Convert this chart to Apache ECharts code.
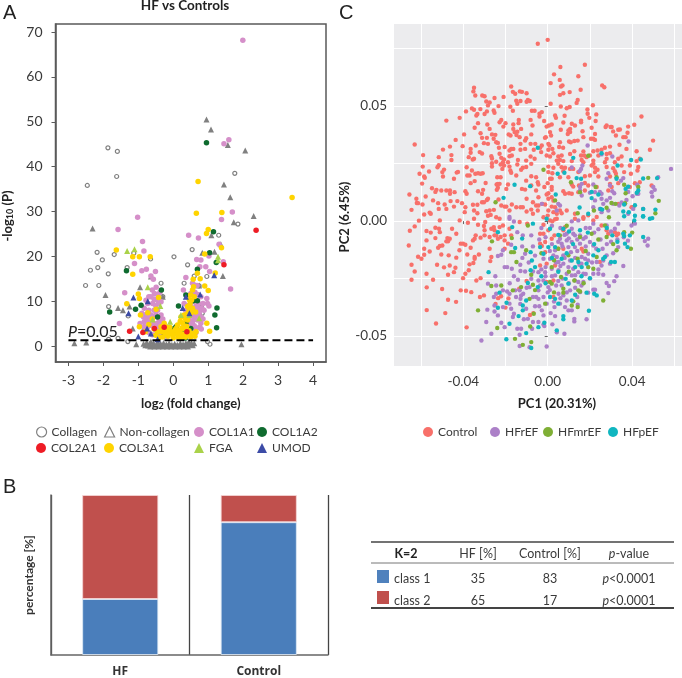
<!DOCTYPE html>
<html><head><meta charset="utf-8">
<script src="https://cdn.jsdelivr.net/npm/echarts@6/dist/echarts.min.js"></script>
<style>html,body{margin:0;padding:0;background:#fff}#c{width:682px;height:678px}</style>
</head><body><div id="c"></div>
<script>
/* Panel A: volcano plot, [log2 fold change, -log10 P] */
const collagen=[[-1.87,44.2],[-1.6,43.4],[-1.62,37.8],[-2.46,35.8],[1.76,38.5],[-2.18,20.9],[-2.03,19.2],[-2.16,17.5],[-2.37,16.9],[-1.86,16.1],[-2.51,13.5],[-2.13,13.5],[-1.69,20.4],[-1.32,17.5],[-1.13,20.7],[-.65,19.4],[.02,19.9],[.54,21.5],[.41,18.1],[.96,15.5],[1.85,27.2],[1.3,24.7],[.6,15.6],[-1.85,8.8],[-1.29,6.7],[-.35,14],[.79,9],[.83,7.3],[-.83,4.3],[-1.58,1.7],[-1.85,1.5],[-1.3,1],[1.05,.4],[.98,1],[-.3,11],[.74,13.4],[.31,14]];
const nonCollagen=[[.95,50.5],[1.08,48.3],[1.56,44.8],[2.06,43.6],[1.45,36],[1.63,33.2],[-2.31,26.2],[2.3,29],[1.73,27.6],[1.09,24.7],[1.36,22.7],[.83,20.8],[1.18,21],[1.42,15.6],[-.95,13.1],[-1.94,11.4],[-1.58,8.5],[-1.44,8],[-.64,15.5],[.74,13.5],[.81,9.2],[.79,7],[.79,4.3],[.55,5.4],[-2.83,.6],[-2.49,.8],[1.95,.4],[-1.06,.4],[-1.16,3.9],[-1.25,8.8],[-.83,4.3],[-.3,11],
[-.85,.5],[-.8,.2],[-.76,.8],[-.72,.1],[-.68,.5],[-.64,1],[-.6,.2],[-.56,.6],[-.52,0],[-.48,.4],[-.44,.9],[-.4,.1],[-.36,.5],[-.32,0],[-.28,.7],[-.24,.2],[-.2,.4],[-.16,0],[-.12,.6],[-.08,.1],[-.04,.3],[0,0],[.04,.5],[.08,.1],[.12,.3],[.16,0],[.2,.6],[.24,.2],[.28,.4],[.32,0],[.36,.7],[.4,.2],[.44,.9],[.48,.3],[.52,.7],[.56,.2],[.6,.6],[-.66,-.1],[-.54,-.1],[-.42,-.1],[-.3,-.1],[-.18,-.1],[-.06,-.1],[.06,-.1],[.18,-.1],[.3,-.1],[.42,-.1]];
const col1a1=[[1.99,68.2],[1.45,45.1],[1.59,46],[-1.02,28.7],[-1.58,26],[-.88,23.3],[-.84,21.2],[-1.11,18.4],[-.9,16.8],[-.77,17.1],[-.51,16.6],[-.64,15.6],[-.57,14.9],[.44,24.7],[.72,24.1],[1.69,29.9],[1.38,28.2],[1.31,22.7],[1.02,20.1],[.67,19.3],[.79,19.2],[.76,17.7],[.93,17.7],[1.04,16.6],[.36,15.3],[.6,13.6],[1.64,12.7],[1.43,18.8],[-1.39,11.9],[-1.54,5],[-.49,13.1],[-.54,11.7],[-.64,11],[-.73,9.5],[-.83,8.4],[-.9,7.3],[-.73,6.5],[-.83,5.4],[-.45,8],[-.35,6.9],[-.45,5.1],[-.59,9.5],[-.49,10.3],[-.35,9.9],[-.65,4.7],[-.83,4.3],[.29,12.5],[.41,11],[.5,11.7],[.79,11],[.96,10.6],[.98,9.5],[.69,8.8],[.74,7.3],[.79,6.5],[.69,5.8],[.79,5.1],[.55,6.9],[.41,7.3],[.6,8],[.31,9.5],[.5,8.8],[1.02,8.9],[-.3,3],[-.4,2.5],[-.2,2.2],[.3,3.5],[.45,2.5],[.55,3.5],[.6,4.5],[.2,2],[.65,3],[-.5,3.5],[-.6,2.5],[-.7,3],
[-.8,7],[-.75,6],[-.7,5.5],[-.65,7],[-.6,6.5],[-.55,8],[-.5,7],[-.45,6.5],[-.4,5.8],[-.35,5],[-.3,6],[-.6,4.5],[-.55,5],[-.5,4.5],[-.4,4],[-.85,6.5],[-.95,5],[-.75,4],[-.7,8],[-.5,9],[-.42,9.5],[-.55,10.5],[-.45,11.5],[-.38,12],[-.6,12.5],[-.7,11],[-.78,10.2],[.3,5],[.35,4.5],[.4,5.5],[.45,6],[.5,5],[.55,5.5],[.6,6],[.65,6.5],[.7,7],[.75,8],[.8,8.5],[.72,9.5],[.65,9],[.45,8],[.4,9],[.35,8],[.55,10],[.62,12],[.68,13.5],[.85,9.5],[.88,8],[.75,4.2],[.65,4],[.5,3],[.85,6],[.8,3.8],[.55,14],[.7,11.5]];
const col1a2=[[.95,45.3],[1.15,25.5],[1.04,20.8],[1.23,18.6],[-1.34,16.8],[-1.82,7.6],[-.34,12.5],[-1.08,8.2],[-.92,9.1],[.69,17.1],[1.25,8.5],[1.19,6.9],[1.24,4.1],[.15,8.9],[.36,11.4],[.58,10.1],[.69,10.1],[-.45,6.5],[.03,3.9],[.08,4.3],[-.02,3.2],[.5,3.9],[.36,5.1],[-.26,2.8],[.15,2.2],[.25,2.8],[.35,1.8]];
const col2a1=[[2.37,25.8],[1.45,18.1],[-1.25,3.3],[-.87,3],[-.54,3.9],[.39,3.2],[-.26,4.2]];
const col3a1=[[.71,36.7],[3.4,33.1],[.66,29.6],[1.39,29.8],[1,26],[.95,25.1],[1.38,21.9],[-1.63,21.4],[-1.16,19.9],[-.97,19.9],[-.66,19.9],[-1.16,16],[.9,20.5],[1.2,16.3],[.69,16.2],[.57,14.9],[.77,15],[.9,13.4],[1,12.4],[.96,5.1],[1.04,3.3],[-1.33,9.4],[-1,11.6],[-.97,10.6],[-.73,7.4],[-.49,8.2],[-.42,10.8],[-.94,6.9],[-.97,4.3],[.55,12.5],[.5,11.4],[.46,10.3],[.41,8.8],[.31,6.9],[.22,6.5],[.55,8.4],[.5,7.3],[.27,5.1],[.12,4.7],[-.26,5.1],[-.21,4.3],[-.16,3.6],[-.35,3.2],[-.07,2.8],[.08,3.9],[.31,3.9],[.55,2.8],[.65,3.2],[.22,2.8],[.41,5.8],[-.35,4.3],[-.45,3.2],[-.15,2.2],[-.3,2],[0,1.8],[.15,1.9],[.35,2],[-.5,2.4],[.42,2.5],[.1,2.8],[-.05,3.2],
[-.55,3.8],[-.6,6],[-.7,4.8],[-.8,3.2],[-.25,3],[-.3,3.8],[-.4,1.9],[-.1,4.2],[-.2,2.8],[0,2.5],[.05,3.5],[.18,3.5],[.25,4],[.3,2.6],[.38,4.4],[.45,3.4],[.35,6],[.4,7.2],[.45,7.8],[.48,9.4],[.52,10.2],[.58,13.2],[.6,11],[.64,7.6],[.2,5.5],[.25,1.9],[.5,2],[.62,2.2]];
const fga=[[-1.32,21.2],[-1.11,21.6],[-.73,13.1],[1.28,19.9],[1.28,19.1],[-.37,8.9],[-.59,5.9],[-.09,5.4],[.74,6.2],[.22,6.9],[.46,6.9]];
const umod=[[-1.14,10.8],[-1.28,7.3],[-.73,10],[.77,11.5],[1.17,15.8],[.27,8.5],[-1,2.1],[-.75,3.9],[-.64,2.8],[.46,7.3],[-.45,1.5],[.36,11]];
const threshold=[[-3,1.3],[4,1.3]];
const xTicksA=[-3,-2,-1,0,1,2,3,4];
const yTicksA=[0,10,20,30,40,50,60,70];

/* Panel B: class share, percent */
const groups=['HF','Control'];
const class1=[35,83];
const class2=[65,17];

/* Table next to panel B */
const tableHead=['K=2','HF [%]','Control [%]','p-value'];
const tableRows=[['class 1','35','83','<0.0001'],['class 2','65','17','<0.0001']];

/* Panel C: PCA scores in units of 0.001, [PC1, PC2] */
const control=[[-4.7,77.1],[-34.9,58],[-35.2,56.4],[-34.3,54.6],[-17.3,58.5],[-16.5,56.2],[-15.4,55.4],[-13.2,56.4],[-12.2,56.2],[-10,55.6],[-31,54.6],[-29.9,54.3],[-25.2,53.5],[-20.9,54],[-29.1,52],[-27.5,51.6],[-28.3,50.3],[-14.9,52.3],[-14.4,51],[-12.9,52.2],[-9.4,52.7],[-8.5,52.2],[-10,51.9],[-17.7,49.7],[-16.5,48],[-23.3,50],[-25.6,48.1],[-25.2,47.1],[-35.9,49],[-34.9,48.4],[-38.7,47.7],[-31.9,48.7],[-28.8,47.7],[-29.9,46.6],[-33.8,45.9],[-33.3,46.6],[-7.5,48],[-6.2,48],[-48,43.7],[-41.7,44.9],[-22,44],[-22.8,43],[-13.7,44],[-13.8,42.6],[-8.1,44],[-20,42.6],[-16.3,42],[-7.2,41.6],[-33,42.6],[-28.6,42],[-21,41.1],[-34.6,40.6],[-27.5,40.1],[-16.3,40.1],[-14.4,38.9],[-12.6,40.1],[-15.7,38.7],[-31.8,38.2],[-26.4,37.7],[-24.8,37.5],[-39.6,37.7],[-18.5,37.7],[-17.6,37.2],[-14.8,37.4],[-7.8,37.7],[-10.2,36],[-13.3,36.5],[-31.1,36.2],[-28.8,36.2],[-25.6,35.8],[-43.6,35.3],[-10.7,35],[-30.2,33.9],[-28.3,33.6],[-24.4,34.3],[-23.6,34],[-12.9,33.6],[-63,33.3],[-34.1,32.9],[-46.3,32.4],[-40.3,32.6],[-23.1,31.9],[-20.4,32.2],[-16.3,31.4],[-17.3,31.4],[-18.1,30.7],[-8.1,33.6],[-5.9,33.6],[-49.6,31.1],[-36.5,31.4],[-36.5,29.7],[-32.2,30],[-31.1,29.4],[-12.9,31],[-10.7,31.4],[-6.6,31],[-59,28.7],[-45.6,28.7],[-51.6,27.8],[-37.4,27.8],[-34.9,27.1],[-35.5,26.8],[-26.7,28.2],[-26.4,27.2],[-22.8,29.3],[-22,27.5],[-20.7,26.8],[-18.1,28.2],[-17,28.5],[-14.1,26.6],[-10.2,26.3],[-8.1,28.1],[-6.2,27.1],[-45.6,26.6],[-24.4,25.8],[-26.4,25.2],[-26.4,23.7],[-18.8,25.6],[-18.1,23.7],[-21.2,25.6],[-20.7,24.2],[-22.3,24.6],[-14.4,24.6],[-11.8,23.2],[-10.2,23.5],[-7.8,24.9],[-59.2,23.7],[-51.6,24.3],[-52.2,23.4],[-38.4,23.4],[-21.5,22.7],[-17.7,22],[-17.3,21],[-12.6,22.3],[-49.1,22.4],[-56.2,21.6],[-42.5,21.4],[-43.1,21.1],[-35.9,22],[-49.9,21.3],[-60.7,20.6],[-34.3,20.6],[-33,20.8],[-30.8,20.8],[-31.8,20.6],[-38.1,19.8],[-37,19.8],[-58.5,19.4],[-58.2,18.8],[-49.6,19.4],[-44.4,18.4],[-23.9,19.1],[-22.3,19.1],[-14.9,19.8],[-7.8,19.5],[-5.5,19.1],[-34.6,17.4],[-36.5,16.5],[-59.5,16.3],[-29.4,16.6],[-23.6,16.2],[-24.2,15.9],[-22.8,16.2],[-18.8,15.9],[-10.2,17.6],[-7.8,15.5],[-4.7,16.9],[-54.8,14.3],[-52.7,13.6],[-53.2,12.7],[-50.4,13.3],[-48,13.3],[-46.3,13.3],[-46.3,11.9],[-44.1,12.6],[-39,13],[-38.4,11.9],[-33,13],[-30.6,13.6],[-31.1,11.9],[-23.6,14.5],[-24.1,13.6],[-19.6,14],[-12.2,14],[-10.7,13.7],[-5.5,13.3],[-65.5,11.6],[-57.8,10.7],[-62.2,9.7],[-54.3,9],[-62,7.9],[-61.4,7.8],[-59.3,7.2],[-51.9,7.8],[-48.8,7.2],[-46,8.7],[-42.8,8.7],[-40.6,7.8],[-39,6],[-35.4,7.1],[-33.3,7.1],[-31.1,8.2],[-30.2,8.2],[-28.3,9.7],[-28.8,9.2],[-23.3,9.4],[-22,6.8],[-20.4,6.3],[-19.6,6.3],[-17,7.2],[-14.9,6],[-12.9,6],[-11.8,6],[-10,9.7],[-7,8.2],[-5.5,6.8],[-64.5,4.9],[-51.6,5.3],[-48,5.3],[-44.4,6.3],[-58.5,2.9],[-55.9,3.7],[-55.4,3.2],[-39.3,3.9],[-34.9,4.6],[-34.9,1],[-33.3,3.4],[-29.1,4.3],[-27.5,4.6],[-27,2.7],[-25.5,4.9],[-28.3,2.3],[-24.4,1.7],[-22.8,1],[-18.1,4.6],[-7.8,5],[-10,4.2],[-7,3.2],[-4.7,4.6],[-61,.2],
[0,78.8],[6,67],[17.6,68],[3,63.8],[14.5,63],[5.7,61.4],[1.4,60],[7,59],[6.3,58.5],[25.8,59],[26.8,58.2],[15.6,57.1],[10.4,56.1],[7.4,55.6],[5.8,54.9],[14.2,52.7],[13.7,51.4],[1.4,51],[6.2,49.8],[9,49.1],[10.4,49.6],[21.4,50.4],[18.8,48.5],[-2.8,47.4],[-3.9,46.7],[18.9,46.7],[23,46.4],[3.5,45.9],[3.9,44.9],[8,45.8],[15.8,43.7],[15.8,43],[19.7,44.9],[-1.7,43.5],[-3.9,45.5],[7.4,42.9],[22.7,43.5],[44.4,45.5],[1.9,42],[.6,41.6],[11.4,42.3],[12.9,41.6],[-.5,41.1],[20.8,40.6],[27.9,41.6],[27.4,40.9],[30.3,40.9],[33.4,39.7],[34.2,39.8],[38.1,41.1],[41,41.9],[29.8,40.9],[10.6,40.1],[9.8,39.4],[10.6,38.7],[9.5,37.9],[6.2,39.7],[1.1,38.7],[1.6,37.2],[16.5,39.1],[22.4,37.9],[31,39],[32.3,37.2],[37.8,38.4],[35.8,36.5],[36.9,36.5],[16.9,36.5],[20.5,35.8],[21.6,35.8],[22.4,35.3],[-.9,36.5],[-1.3,36.2],[49.9,35],[10.1,34.6],[12.6,34.8],[10.9,34.3],[5.8,34.3],[14.2,35],[.3,33.6],[.8,32.9],[-2.8,32.9],[-3.6,31.9],[5.4,32.2],[7.3,31.9],[34,33.2],[29.5,32.4],[27.1,31.9],[37.3,31.4],[48.4,31],[2.2,31.4],[-3.1,30],[12.6,30.4],[.3,31],[2.7,29.5],[10.6,29.2],[25.5,31],[23.6,30.7],[21.6,30.4],[16.9,30.3],[42.1,30.4],[-.5,28.5],[1.1,28.1],[5,28.1],[6.6,28.5],[15.8,28.5],[17.3,28.5],[18.4,27.8],[20,28.5],[24,28.5],[27.9,29.2],[29.5,29.5],[35,28.1],[43.6,27.1],[42.1,26.1],[4.3,26.3],[5.8,26.6],[7.4,26.1],[11.4,26.1],[16.1,26.6],[16.9,25.6],[21.6,26.3],[27.1,25.6],[33.4,27.1],[27.9,27.1],[5,24.9],[6.6,23.4],[.3,23.7],[2.7,23.2],[8.2,23.2],[10.6,22.7],[12.1,22.7],[21.6,24.9],[20.8,24.2],[22.4,23.2],[27.9,23.5],[31,23],[35,24.2],[38.9,24.2],[42.9,23.5],[31.8,25.6],[.3,21.3],[2.2,20.8],[7.4,21.7],[22.4,21.3],[23.6,22.3],[31.8,21.7],[36.2,21.3],[39.4,20.6],[42.5,22],[1.1,18.4],[1.9,18.4],[5.8,19.1],[9.8,19.1],[17.6,19.5],[20,19.8],[24,19.4],[14.5,21.3],[29.5,19.4],[32.3,20.6],[-4.4,15.9],[0,16.5],[-1.6,14.8],[1.9,14.8],[11.4,15.9],[12.1,15],[14.8,15.5],[17.6,16.6],[19.2,15.5],[23.2,14.8],[29.5,16.2],[33.4,16.5],[38.9,14.8],[41.3,16.5],[43.6,16.9],[49.2,15.5],[1.9,13.6],[.3,12.1],[-.5,11.6],[7.4,13],[8.2,11.9],[10.1,12.1],[11.4,11.9],[14.5,12.6],[17.6,13.3],[28.7,13.3],[30.3,14.8],[-4.4,10.4],[1.9,10.4],[.3,9.7],[2.7,8.9],[-1.2,7.2],[.3,4.6],[1.9,6.3],[3.5,6],[-2.5,7.5],[-4.4,6.8],[5.8,4.6],[6.6,3.4],[2.7,3.9],[4.3,3.2],[9,4.6],[0,2.4],[-2,1.7],[4.3,1],[12.9,3.2],[16.9,1.7],[33.4,7.5],[39.7,6],[40.5,6],[36.6,7.5],
[-51.1,.3],[-41.7,.3],[-37.8,-.7],[-63,-2.3],[-65.3,-4.2],[-57.4,-4.3],[-55.4,-5],[-53.2,-2.9],[-51.5,-3.3],[-51.1,-4.8],[-45.3,-3.3],[-43.3,-5.5],[-53.2,-7.4],[-57.4,-8.4],[-47.5,-7.4],[-46.4,-7.7],[-48,-8.8],[-47.2,-8.8],[-65.8,-10.6],[-51.9,-11.6],[-51.1,-10.8],[-49.9,-10.6],[-41.2,-9.8],[-40.1,-9.8],[-39,-10.3],[-58.5,-12],[-55.9,-13.2],[-61.4,-15.5],[-59.8,-16.4],[-58.5,-14.6],[-50.4,-14.5],[-46.9,-14.9],[-41.8,-12.7],[-43.3,-15.9],[-36.5,-11.6],[-38.1,-14.5],[-34.6,-15.6],[-35.4,-8.4],[-34.6,-7.7],[-34.1,-6.2],[-31.8,-7.2],[-29.9,-6.2],[-27.5,-6.9],[-29.9,-4],[-25.2,-6.2],[-33,-1.6],[-30.2,-2.1],[-29.6,-.4],[-26.7,-3.3],[-25.2,-4],[-24.4,-6.2],[-22.3,-6.9],[-20.4,-6.2],[-20.4,-8.4],[-23.6,-7.7],[-18.8,-9.8],[-27.5,-12],[-17.3,-6.2],[-21.2,-1.9],[-25.5,-2.6],[-32.6,-14.5],[-34.6,-16.4],[-35.2,-18.2],[-37,-18.8],[-52.4,-19],[-49.1,-20.1],[-46.4,-19.3],[-43.7,-20.3],[-47.2,-23.3],[-44.4,-22.2],[-64.5,-19],[-63,-21.9],[-57.4,-22.9],[-54.3,-25.5],[-64.5,-25.5],[-37.4,-21.4],[-39,-22.9],[-40.1,-24.8],[-31.8,-24.8],[-33.8,-25.8],[-57.3,-28.8],[-50,-29.5],[-41.2,-30.1],[-38.7,-30.3],[-36.2,-30.9],[-47.2,-34.2],[-43.4,-35.1],[-32.1,-33],[-30.2,-32.3],[-57.3,-38.7],[-48.5,-40],[-52.9,-44.5],[-38.4,-46.2],[-26.7,-15.6],[-27.2,-17.4],[-22.8,-2.6],[-13.3,-.4],[-9.7,-1.1],[-18.1,-3.3],[-20.4,-12],[-24.7,-36],[-23.5,-33.5],[-22.1,-32.7],[-20,-37.6],[-18.6,-33.6],[-13.5,-29.4],[-10,-26],[-8.4,-40.8],[-6.8,-40],
[1.1,.3],[2.2,-.1],[3.5,.8],[-2,-1.6],[8.2,-2.6],[7.4,-4],[12.9,1],[16.9,1],[-3.6,-5.5],[-2,-5.5],[.3,-4],[3.2,-6.2],[-3.6,-9.8],[-2.8,-10.8],[-1.2,-9.1],[1.9,-7.7],[16.1,-12],[16.9,-13.2],[5,-12],[7.4,-12],[24.7,-17.8],[31.8,-4.8],[32.6,-6.2],[27.9,-4],[33.4,-5.5],[-3.6,-19.3],[-.5,-18.5],[3.5,-19.3],[-1.2,-13.5],[2.7,-25.8],[-.5,-26.5],[2.7,-33],[19.2,2.5],[21.6,.3],[25.5,-1.9],[23.2,1.8],[28.7,-5.5]];
const hfref=[[58.4,22.7],[38.3,34.6],[18.9,32.9],[30.6,28.1],[16.4,24.2],[15.8,22.7],[15.1,21.7],[11.4,23.3],[25.5,29],[50,14.8],[50.7,13.6],[49.2,12.6],[49.5,10.7],[42.4,15.8],[42.9,11.9],[38.1,12.7],[40.2,10.8],[42.2,11.9],[52.3,19.1],[28.7,20.8],[27.9,18.4],[30.6,13],[31.5,12.1],[21.6,15.9],[20,12.3],[22.4,12.6],[24.7,12.7],[25.5,11.9],[29.5,10.1],[27.9,9],[35,8.1],[37.3,9.2],[33.9,6.8],[31,7.5],[26.3,7.5],[25.5,9.7],[22.4,9],[15.3,13.3],[15.3,14.8],[16.1,11.1],[16.1,16.2],[35.8,18.7],[34.7,17.6],[29.5,15.5],[5,7.5],[5.8,6.8],[-2.8,7.5],[4.3,4.6],[21.6,6],[28.7,4.6],[25.5,3.9],[24.7,5.3],[38.1,3.2],[40.5,5.3],[45.2,5.3],[38.1,14.8],[-18.1,1],
[-16,-.2],[-14.4,-4.8],[-11.8,-6.2],[-7.8,-6.2],[-10.7,-14.2],[-12.1,-11],[-17.3,-10.3],[-22,-14.6],[-23.6,-15.2],[-21.2,-12.7],[-20.4,-20],[-19.2,-20],[-17,-20.7],[-12.9,-21.7],[-10.7,-21.9],[-7,-21.9],[-7.8,-25.1],[-14.1,-25.5],[-24.8,-24],[-28.3,-27.2],[-24.4,-28],[-25.5,-33],[-24.4,-31.6],[-21.2,-30.1],[-19.2,-30.6],[-18.1,-31.6],[-15.4,-30.1],[-13.3,-30.1],[-12.9,-33.8],[-12.6,-32.3],[-11.6,-31.6],[-8.6,-28.7],[-7,-33],[-5.5,-33],[-17.3,-38.1],[-16,-40.3],[-16.5,-41.7],[-28.6,-38.5],[-25.2,-39.3],[-25.2,-36.7],[-21.2,-37.4],[-18.1,-35.9],[-29.1,-43.9],[-23.6,-41],[-22,-44.2],[-20.4,-46.1],[-26.7,-49],[-31.4,-51.9],[-14.4,-46.8],[-12.6,-46.8],[-13.3,-49.4],[-11.3,-42.7],[-9.4,-42.5],[-7.4,-46.8],[-13.3,-54.3],[-8.6,-54.8],[-7,-43.9],[-10.2,-38.1],[-4.4,-33.8],[-18.1,1.8],
[11.4,-.1],[14.5,.3],[21.6,-1.1],[27.9,-1.9],[33.4,-1.1],[31.8,-3.3],[41.3,-1.1],[47.6,-7.7],[46,-8.7],[47.3,-10.6],[39.7,-1.9],[9,-5.5],[12.1,-5.5],[15.3,-6.2],[9,-8.4],[11.4,-9.1],[9.8,-11.3],[12.9,-11.3],[15.3,-9.8],[16.9,-7.7],[5.8,-7.7],[20,-9.1],[21.6,-10.6],[33.4,-11.3],[26.3,-17.1],[27.9,-14.9],[25.5,-19.3],[35.8,-19.5],[16.1,-15.6],[17.7,-16.4],[19.2,-17.1],[2.7,-14.9],[4.3,-15.6],[5.1,-17.8],[7.4,-18.5],[9.8,-20],[12.1,-20.7],[14.5,-22.2],[16.9,-22.9],[19.2,-20],[21.6,-22.9],[24,-22.9],[26.3,-23.3],[32.6,-24],[31.5,-26.1],[27.9,-26.9],[29,-28.2],[28.7,-31.3],[19.2,-31.1],[21.6,-29.8],[22.4,-29.8],[-4.4,-25.8],[-2,-25.8],[-3.6,-28],[-4.4,-30.1],[.3,-28.7],[5.1,-31.6],[7.4,-32.3],[9,-34.5],[5.8,-35.9],[3.2,-37.4],[-.5,-35.9],[11.4,-38.8],[9.8,-38.8],[8.2,-37.4],[14.2,-36.4],[12.6,-42.5],[12.6,-43.6],[18.4,-42.7],[-2.8,-38.8],[-2,-41],[1.4,-40],[3.5,-41.3],[2.2,-44.9],[-1.6,-45.6],[-4.4,-43.9],[4.3,-48.3],[7.9,-49],[-.5,-54.5],[14.5,-26.5],[12.9,-25.8],[16.9,-26.5],[6.6,-28],[10.6,-30.1],[15.3,-30.9],[-1.2,-22.2],[1.9,-20.7],[-4.4,-22.2],[11.4,-3.3],[12.9,-6.2],[6.6,-9.8],[3.5,-12.7],[7.4,-14.9],[10.6,-17.1],[1.1,-16.4],[-2,-16.4],[3.5,-23.6],[5.1,-21.4],[9,-22.9],[11.4,-23.6],[19.2,-14.2],[23.2,-17.8],[29.5,-18.5],[22,-5],[25,-8],[30,-9],[36,-7],[26,-12],[31,-14],[18,-3],[6,-3],[2,-10],[15,-19],[4,-28],[0,-31],[10,-27],[20,-25],[-1,-20],[7,-25],
[-3,-3],[-1,-7],[2,-2],[5,-9],[8,-6],[10,-7.5],[14,-8],[18,-7],[20,-3],[24,-3.5],[28,-10],[33,-8],[38,-8.5],[30,-4.5],[23,-12],[18,-11],[14,-13],[11,-13.5],[7,-11],[4,-18],[1,-13],[-3,-21],[-1,-24],[2,-24],[6,-19.5],[8,-16],[13,-16],[16,-18.5],[21,-18],[24,-21],[13,-23.5],[18,-23],[16,-28],[13,-29],[9,-31],[5,-26],[1,-30],[-2,-33],[3,-35],[6,-33.5],[14,-33],[-9,-18],[-12,-16],[-6,-15],[-7,-11],[-4,-8],[-13,-19],[-16,-24],[-10,-29],[-13,-36],[-6,-37],[-4,-37],[-2,-45],[-15,-33],[-18,-27]];
const hfmref=[[-2,22.3],[19.2,28.4],[11,16.9],[22.7,14.8],[15.3,12.6],[36.2,15.8],[36.9,12.1],[47.6,18.8],[52.6,8.8],[51,3.4],[30.2,7.9],[32.1,7.5],[36.6,7.8],[27.9,5.8],[21.9,4.6],[14.2,3.4],[29,1.7],[3.5,9],[42.9,14.8],[32.6,19.1],[-24.7,8.2],
[-9.4,-1.9],[-17,-7.4],[-26.4,-8.8],[-10.2,-12.7],[-17.3,-13.5],[-16,-13.5],[-14.8,-17.8],[-7.8,-23.3],[-7,-27.7],[-12.6,-28.7],[-22,-28],[-26.7,-28.2],[-16.5,-30.1],[-33,-38.8],[-8.6,-33.8],[-6.6,-40.3],[-23.9,-46.5],[-8.3,-45.8],[-15.5,-51.2],[-11.8,-53.8],[-7.8,-52.6],
[27.1,-1.9],[36.2,-4.8],[40,-5],[27.9,-6.9],[32.6,-12.7],[39.4,-12],[20.8,-5.5],[15.3,-6.9],[5,-12],[5.8,-6.2],[9.8,-14.9],[14.2,-16.4],[19.2,-20],[21.6,-20.7],[1.9,-20],[6.3,-24.3],[12.6,-25.8],[14.5,-30.1],[26.3,-34.5],[7.4,-29.4],[7.4,-31.1],[12.1,-34.9],[11.4,-36.7],[14.2,-37.4],[-1.2,-35.9],[1.9,-27.2],[1.1,-26.5],[15.3,-30.6],[23.2,-15.6],
[9,-2],[18,-13],[24,-8],[31,-10],[3,-17],[-3,-14],[-6,-30],[3,-31],[10,-22],[17,-27]];
const hfpef=[[12.1,27.5],[25.5,29.5],[33.1,24.2],[39.5,26.6],[44.1,26.8],[4.7,20.6],[7.9,21],[13.7,18.7],[15.8,18.4],[3.8,11.6],[20.8,12.7],[24,11.6],[20.8,10],[38.1,15],[36.9,14],[42.9,13.3],[42.2,12.3],[45.2,18.5],[51.8,18.7],[41.3,6.9],[36.2,7.2],[15.1,5.9],[25,5.3],[25.8,5],[19.2,3.2],[35.8,4.2],[38.4,3.9],[36.2,2.1],[41.3,2.3],[45.2,2],[45.2,5.3],[51,5],[48.4,1],[49.5,1.3],[-.5,1],[32.6,18.4],[-15.7,15.8],[-8.3,15.2],[-20.9,10.1],[-4.7,31.9],
[-23.6,-4.8],[-16.8,-2.6],[-12.1,-7.6],[-15.4,-11.7],[-8.1,-13.5],[-7.5,-17.1],[-28,-22.2],[-8.1,-21.4],[-9.4,-26.9],[-22.8,-31.1],[-19.5,-35.5],[-23.6,-37.7],[-11.8,-36.7],[-11.8,-38.8],[-13.8,-41.3],[-18.1,-44.6],[-10.2,-48.7],[-19.6,-51.4],[-7.8,-55.2],[-4.7,-28.7],[-10.2,-34.5],[-7,-1.1],
[41,.3],[45.2,2.1],[35.8,-5.5],[36.2,-6.5],[38.9,-6.2],[30.6,-6.2],[1.1,-3.3],[7.4,-3.3],[10.1,-4.5],[15.3,-4],[24,-12.7],[21.6,-14.9],[26.3,-16.4],[30,-17.8],[31.8,-17.8],[6.6,-16.4],[11.4,-17.1],[18.4,-18.5],[.3,-11.3],[3.5,-11.3],[-2,-14.2],[-3.6,-11.3],[16.1,-20],[20,-24.8],[8.5,-25.1],[9.8,-27.2],[18.4,-31.1],[22,-31.6],[23.2,-32.3],[1.1,-33],[3.5,-33.8],[11.4,-34.5],[19.5,-39],[7.4,-41.3],[7.4,-42.7],[4.3,-47.5],[-1.6,-44.2],[-4.4,-46.1],[5,-35.9],[36.6,-9.8],[37.8,-11.3],[45.2,-6.9],[27.1,-15.6],[14.5,-17.8],
[5,-6],[12,-10],[19,-5],[28,-3],[33,-9],[2,-16],[9,-14],[13,-20],[22,-10],[-1,-27],[-6,-20],[-3,-24],[5,-22],[16,-24],[13,-32]];
const xTicksC=[-0.04,0,0.04];
const yTicksC=[-0.05,0,0.05];
const xGridC=[-0.06,-0.04,-0.02,0,0.02,0.04,0.06];
const yGridC=[-0.05,-0.025,0,0.025,0.05,0.075];

const FONT='Lato';
const INK='#3a3a3a';
const GRAY='#808080';
const pca=a=>a.map(p=>[p[0]/1000,p[1]/1000]);
const volcano=(name,data,symbol,color,extra,size)=>({name,type:'scatter',xAxisIndex:0,yAxisIndex:0,data,symbol,symbolSize:size||(symbol==='triangle'?6:5.5),itemStyle:Object.assign({color,opacity:1},extra||{}),silent:true});
const pcaSeries=(name,data,color)=>({name,type:'scatter',xAxisIndex:2,yAxisIndex:2,data:pca(data),symbol:'circle',symbolSize:4.4,itemStyle:{color,opacity:1},silent:true});
const legendAt=(name,icon,left,top,style)=>({data:[Object.assign({name,icon},style?{itemStyle:style}:{})],left,top,orient:'horizontal',padding:0,itemWidth:10,itemHeight:10,selectedMode:false,textStyle:{fontFamily:FONT,fontSize:12,color:INK}});

const hollow={color:'#fff',borderColor:GRAY,borderWidth:1.2};
const legends=[
 legendAt('Collagen','circle',36,426,hollow),
 legendAt('Non-collagen','triangle',104,426,hollow),
 legendAt('COL1A1','circle',194,426),
 legendAt('COL1A2','circle',257,426),
 legendAt('COL2A1','circle',36,442),
 legendAt('COL3A1','circle',104,442),
 legendAt('FGA','triangle',194,442),
 legendAt('UMOD','triangle',257,442),
 legendAt('Control','circle',423,426),
 legendAt('HFrEF','circle',490,426),
 legendAt('HFmrEF','circle',543,426),
 legendAt('HFpEF','circle',608,426)
];

/* table rows as ECharts graphics */
const T={left:371,right:674,cols:[406,478,550,629]};
const txt=(text,x,y,o)=>({type:'text',x,y,silent:true,style:Object.assign({text,fontFamily:FONT,fontSize:12.5,fill:INK,align:'center',verticalAlign:'middle'},o||{})});
const rule=(y,w,c)=>({type:'line',silent:true,shape:{x1:T.left,y1:y,x2:T.right,y2:y},style:{stroke:c,lineWidth:w}});
const pRich={rich:{i:{fontStyle:'italic',fontFamily:FONT,fontSize:12.5,fill:INK},n:{fontFamily:FONT,fontSize:12.5,fill:INK}}};
const graphics=[
 txt('A',3,13,{fontFamily:'Liberation Sans',fontSize:20,align:'left',fill:'#222'}),
 txt('B',3,487,{fontFamily:'Liberation Sans',fontSize:20,align:'left',fill:'#222'}),
 txt('C',339,13,{fontFamily:'Liberation Sans',fontSize:20,align:'left',fill:'#222'}),
 txt('HF vs Controls',185,6,{fontWeight:'bold',fontSize:13.5,fill:'#222'}),
 txt('{i|P}{n|=0.05}',68,332,{rich:{i:{fontStyle:'italic',fontFamily:FONT,fontSize:16,fill:'#222'},n:{fontFamily:FONT,fontSize:16,fill:'#222'}},align:'left'}),
 rule(542,1.6,'#444'),rule(563,1,'#777'),rule(608,1.8,'#444'),
 txt(tableHead[0],T.cols[0],554,{fontWeight:'bold',fill:'#222'}),
 txt(tableHead[1],T.cols[1],554),
 txt(tableHead[2],T.cols[2],554),
 txt('{i|p}{n|-value}',T.cols[3],554,pRich),
 {type:'rect',silent:true,shape:{x:377,y:570,width:12,height:13},style:{fill:'#4F81BD'}},
 {type:'rect',silent:true,shape:{x:377,y:591,width:12,height:13},style:{fill:'#C0504D'}}
];
tableRows.forEach((r,i)=>{
 const y=[579,601][i];
 graphics.push(txt(r[0],394,y,{align:'left'}),txt(r[1],T.cols[1],y),txt(r[2],T.cols[2],y),txt('{i|p}{n|'+r[3]+'}',T.cols[3],y,pRich));
});

const chart=echarts.init(document.getElementById('c'),null,{renderer:'canvas'});
chart.setOption({
 animation:false,
 backgroundColor:'#fff',
 textStyle:{fontFamily:FONT},
 legend:legends,
 graphic:{elements:graphics},
 grid:[
  {left:54,top:24,width:272,height:338,show:true,borderColor:'#5a5a5a',borderWidth:1.5,backgroundColor:'#fff',containLabel:false},
  {left:51,top:495,width:277,height:162,containLabel:false},
  {left:394,top:24,width:288,height:342,show:true,borderWidth:0,backgroundColor:'#ECECEE',containLabel:false}
 ],
 xAxis:[
  {type:'value',gridIndex:0,min:-3.37,max:4.37,splitLine:{show:false},axisLine:{show:true,onZero:false,lineStyle:{color:'#5a5a5a',width:1.5}},axisTick:{show:true,length:4,customValues:xTicksA,lineStyle:{color:'#5a5a5a'}},axisLabel:{customValues:xTicksA,margin:11,fontFamily:FONT,fontSize:14,color:INK},
   name:'{b|log}{s|2}{b| (fold change)}',nameLocation:'middle',nameGap:35,nameTextStyle:{rich:{b:{fontFamily:FONT,fontWeight:'bold',fontSize:13,color:'#222'},s:{fontFamily:FONT,fontWeight:'bold',fontSize:9,color:'#222',padding:[5,0,0,0]}}}},
  {type:'category',gridIndex:1,data:groups,axisLine:{show:true,lineStyle:{color:'#666',width:1.5}},axisTick:{show:false},splitLine:{show:true,interval:0,lineStyle:{color:'#444',width:1.3}},axisLabel:{margin:11,fontFamily:'Open Sans',fontWeight:'bold',fontSize:12,color:'#333'}},
  {type:'value',gridIndex:2,min:-0.0728,max:0.0636,splitLine:{show:false},axisLine:{show:false},axisTick:{show:true,length:3,customValues:xTicksC,lineStyle:{color:'#666'}},axisLabel:{customValues:xTicksC,margin:9,fontFamily:FONT,fontSize:13.5,color:INK,formatter:v=>v===0?'0.00':v.toFixed(2)},
   name:'PC1 (20.31%)',nameLocation:'middle',nameGap:31,nameTextStyle:{fontFamily:FONT,fontWeight:'bold',fontSize:13,color:'#222',padding:[0,0,0,38]}},
  {type:'value',gridIndex:2,position:'top',min:-0.0728,max:0.0636,axisLine:{show:false},axisTick:{show:false,customValues:xGridC},axisLabel:{show:false},splitLine:{show:true,lineStyle:{color:'#fff',width:1}}}
 ],
 yAxis:[
  {type:'value',gridIndex:0,min:-3.56,max:71.8,splitLine:{show:false},axisLine:{show:true,onZero:false,lineStyle:{color:'#5a5a5a',width:1.5}},axisTick:{show:true,length:4,customValues:yTicksA,lineStyle:{color:'#5a5a5a'}},axisLabel:{customValues:yTicksA,margin:13,fontFamily:FONT,fontSize:14,color:INK},
   name:'{b|-log}{s|10}{b| (P)}',nameLocation:'middle',nameGap:41,nameTextStyle:{padding:[0,46,0,0],rich:{b:{fontFamily:FONT,fontWeight:'bold',fontSize:13,color:'#222'},s:{fontFamily:FONT,fontWeight:'bold',fontSize:9,color:'#222',padding:[5,0,0,0]}}}},
  {type:'value',gridIndex:1,min:0,max:100,splitLine:{show:false},axisLine:{show:true,lineStyle:{color:'#666',width:1.5}},axisTick:{show:false},axisLabel:{show:false},
   name:'percentage [%]',nameLocation:'middle',nameGap:16,nameTextStyle:{fontFamily:FONT,fontWeight:'bold',fontSize:12,color:'#333'}},
  {type:'value',gridIndex:2,min:-0.063,max:0.0857,splitLine:{show:false},axisLine:{show:false},axisTick:{show:true,length:3,customValues:yTicksC,lineStyle:{color:'#666'}},axisLabel:{customValues:yTicksC,margin:7,fontFamily:FONT,fontSize:13.5,color:INK,formatter:v=>v===0?'0.00':v.toFixed(2)},
   name:'PC2 (6.45%)',nameLocation:'middle',nameGap:42,nameTextStyle:{fontFamily:FONT,fontWeight:'bold',fontSize:13,color:'#222',padding:[0,44,0,0]}},
  {type:'value',gridIndex:2,position:'right',min:-0.063,max:0.0857,axisLine:{show:false},axisTick:{show:false,customValues:yGridC},axisLabel:{show:false},splitLine:{show:true,lineStyle:{color:'#fff',width:1}}}
 ],
 series:[
  volcano('Collagen',collagen,'circle','#fff',{borderColor:GRAY,borderWidth:1.2},4),
  volcano('Non-collagen',nonCollagen,'triangle',GRAY),
  volcano('COL1A1',col1a1,'circle','#D58FC9'),
  volcano('COL1A2',col1a2,'circle','#0F6B2F'),
  volcano('COL3A1',col3a1,'circle','#FFD400'),
  volcano('COL2A1',col2a1,'circle','#EE1C25'),
  volcano('FGA',fga,'triangle','#AAD24A'),
  volcano('UMOD',umod,'triangle','#3C4BA6'),
  {type:'line',xAxisIndex:0,yAxisIndex:0,data:threshold,symbol:'none',silent:true,z:5,lineStyle:{color:'#000',width:2,type:[8,4]}},
  {name:'class 1',type:'bar',stack:'k',xAxisIndex:1,yAxisIndex:1,data:class1,barWidth:'55%',silent:true,itemStyle:{color:'#4A7EBB',borderColor:'rgba(225,235,245,.8)',borderWidth:1}},
  {name:'class 2',type:'bar',stack:'k',xAxisIndex:1,yAxisIndex:1,data:class2,barWidth:'55%',silent:true,itemStyle:{color:'#C0504D',borderColor:'rgba(245,215,215,.8)',borderWidth:1}},
  pcaSeries('Control',control,'#F8706A'),
  pcaSeries('HFrEF',hfref,'#AC80C8'),
  pcaSeries('HFmrEF',hfmref,'#7FAF35'),
  pcaSeries('HFpEF',hfpef,'#10B6C0')
 ]
});
</script></body></html>
